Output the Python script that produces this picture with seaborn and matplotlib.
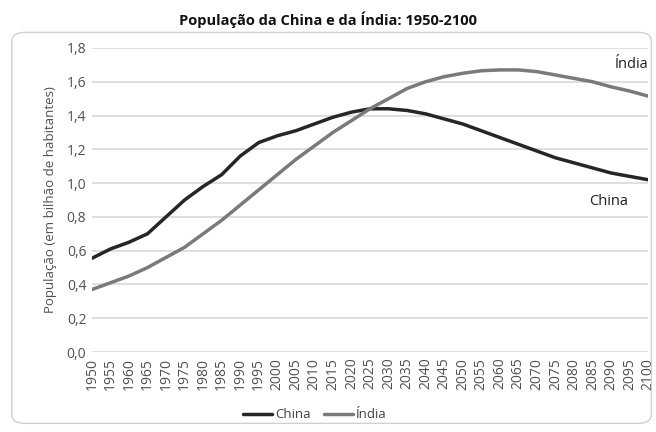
import numpy as np
import pandas as pd
import seaborn as sns
import matplotlib.pyplot as plt
from matplotlib.patches import FancyBboxPatch
from matplotlib.lines import Line2D

years = list(range(1950, 2101, 5))
china = [0.555, 0.61, 0.65, 0.70, 0.80, 0.90, 0.98, 1.05, 1.16, 1.24,
         1.28, 1.31, 1.35, 1.39, 1.42, 1.44, 1.44, 1.43, 1.41, 1.38,
         1.35, 1.31, 1.27, 1.23, 1.19, 1.15, 1.12, 1.09, 1.06, 1.04, 1.02]
india = [0.37, 0.41, 0.45, 0.50, 0.56, 0.62, 0.70, 0.78, 0.87, 0.96,
         1.05, 1.14, 1.22, 1.30, 1.37, 1.44, 1.50, 1.56, 1.60, 1.63,
         1.65, 1.665, 1.67, 1.67, 1.66, 1.64, 1.62, 1.60, 1.57, 1.545, 1.515]
series = ["China", "Índia"]
yticks = [0.0, 0.2, 0.4, 0.6, 0.8, 1.0, 1.2, 1.4, 1.6, 1.8]

df = pd.DataFrame({
    "Ano": years * 2,
    "Pop": china + india,
    "Pais": [series[0]] * len(years) + [series[1]] * len(years),
})

sns.set_style("white")
plt.rcParams['font.family'] = ['Open Sans', 'DejaVu Sans']

fig = plt.figure(figsize=(6.56, 4.32), dpi=100)
# chart area border (outline only)
border = FancyBboxPatch((0.018, 0.02), 0.975, 0.905,
                        boxstyle="round,pad=0,rounding_size=0.02",
                        transform=fig.transFigure, facecolor="none",
                        edgecolor="#d0d0d0", linewidth=1.0)
fig.patches.append(border)
ax = fig.add_axes([0.14, 0.185, 0.848, 0.704])
ax.set_facecolor("none")

palette = {"China": "#262626", "Índia": "#7a7a7a"}
sns.lineplot(data=df, x="Ano", y="Pop", hue="Pais", palette=palette,
             linewidth=2.5, ax=ax, legend=False)
for ln in ax.lines:
    ln.set_solid_joinstyle("round")
    ln.set_solid_capstyle("round")

ax.set_xlim(1950, 2100)
ax.set_ylim(0, 1.8)
ax.set_xticks(years)
ax.set_xticklabels([str(y) for y in years], rotation=90, fontsize=10, color="#505050")
ax.set_yticks(yticks)
ax.set_yticklabels([f"{v:.1f}".replace(".", ",") for v in yticks], fontsize=10, color="#505050")
ax.tick_params(length=0, pad=4)
ax.grid(axis="y", color="#d9d9d9", linewidth=1.2)
for s in ax.spines.values():
    s.set_visible(False)
ax.set_xlabel("")
ax.set_ylabel("População (em bilhão de habitantes)", fontsize=9.5, color="#505050", labelpad=7)

ax.text(2091, 1.70, "Índia", fontsize=10.5, color="#202020", ha="left", va="center", clip_on=False)
ax.text(2084, 0.89, "China", fontsize=10.5, color="#202020", ha="left", va="center", clip_on=False)

fig.text(0.5, 0.955, "População da China e da Índia: 1950-2100", ha="center", va="center",
         fontsize=10.5, fontweight="bold", color="#111111")

# legend
handles = [Line2D([], [], color=palette[s], linewidth=2.5) for s in series]
fig.legend(handles, series, loc="center", bbox_to_anchor=(0.48, 0.04), ncol=2,
           frameon=False, fontsize=9.5, handlelength=2.2, handletextpad=0.2, columnspacing=1.0,
           labelcolor="#404040")

fig.savefig("out.png", dpi=100)
